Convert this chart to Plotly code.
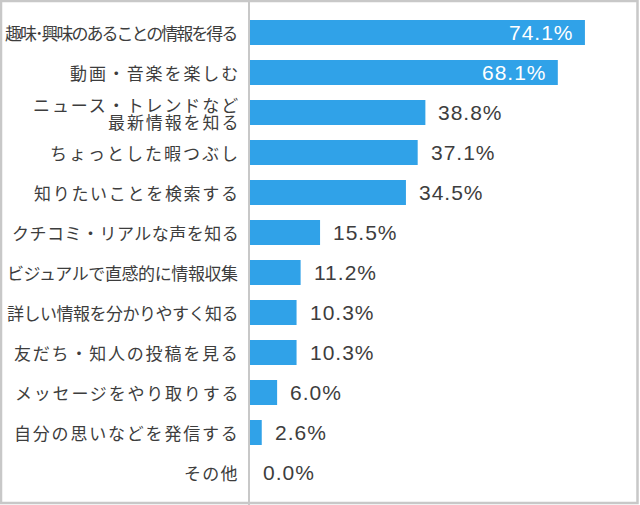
import plotly.graph_objects as go

categories = [
    "趣味･興味のあることの情報を得る",
    "動画・音楽を楽しむ",
    "ニュース・トレンドなど<br>最新情報を知る",
    "ちょっとした暇つぶし",
    "知りたいことを検索する",
    "クチコミ・リアルな声を知る",
    "ビジュアルで直感的に情報収集",
    "詳しい情報を分かりやすく知る",
    "友だち・知人の投稿を見る",
    "メッセージをやり取りする",
    "自分の思いなどを発信する",
    "その他",
]
values = [74.1, 68.1, 38.8, 37.1, 34.5, 15.5, 11.2, 10.3, 10.3, 6.0, 2.6, 0.0]
value_labels = [f"{v:.1f}%" for v in values]

# per-label letter spacing (px) to mimic the reference's condensed/expanded text
label_spacing = [-2, 1.9, 1.9, 2, 1.7, 0.5, -0.4, -0.5, 1.8, 1.8, 1.8, 1.2]

W, H = 640, 505
L = 250
plot_w = W - L
px_per_unit = 4.52
x_max = plot_w / px_per_unit

idx = list(range(len(categories)))
bar_color = "#30A2E8"
text_color = "#3d3d3d"
line_gap = 17

fig = go.Figure()
fig.add_trace(go.Bar(
    x=values, y=idx, orientation="h",
    marker=dict(color=bar_color, line=dict(width=0)),
    width=0.625, hoverinfo="skip",
))

annotations = []
# category labels
for i, (c, ls) in enumerate(zip(categories, label_spacing)):
    parts = c.split("<br>")
    k = len(parts)
    for j, p in enumerate(parts):
        shift = ((k - 1) / 2 - j) * line_gap
        annotations.append(dict(
            x=0, y=i, xref="paper", yref="y",
            text=f'<span style="letter-spacing:{ls}px">{p}</span>',
            showarrow=False, xanchor="right", yanchor="middle",
            xshift=-10 + ls, yshift=shift,
            font=dict(family="Noto Sans CJK JP", size=17, color=text_color),
        ))

# value labels
for i, (v, t) in enumerate(zip(values, value_labels)):
    inside = v > 50
    annotations.append(dict(
        x=v, y=i, xref="x", yref="y",
        text=f'<span style="letter-spacing:1px">{t}</span>',
        showarrow=False,
        xanchor="right" if inside else "left",
        yanchor="middle",
        xshift=-9 if inside else 11,
        font=dict(family="Liberation Sans, Arial, sans-serif", size=21,
                  color="#ffffff" if inside else text_color),
    ))


def px_x(p):
    return (p - L) / plot_w


def px_y(p):
    return 1 - p / H


shapes = [
    dict(type="line", xref="paper", yref="paper",
         x0=px_x(249), x1=px_x(249), y0=px_y(0), y1=px_y(H),
         line=dict(color="#c8c8c8", width=2)),
    dict(type="rect", xref="paper", yref="paper",
         x0=px_x(1), x1=px_x(637.5), y0=px_y(1), y1=px_y(503),
         line=dict(color="#c8c8c8", width=2.5), fillcolor="rgba(0,0,0,0)"),
]

n = len(categories)
pad = 12.5 / 40
fig.update_layout(
    width=W, height=H,
    margin=dict(l=L, r=0, t=0, b=0, pad=0, autoexpand=False),
    paper_bgcolor="white", plot_bgcolor="white",
    showlegend=False,
    xaxis=dict(range=[0, x_max], visible=False, fixedrange=True, automargin=False),
    yaxis=dict(
        range=[n - 0.5 + pad, -0.5 - pad],
        showticklabels=False, tickvals=idx,
        showgrid=False, zeroline=False, showline=False,
        ticks="", automargin=False, fixedrange=True,
    ),
    annotations=annotations,
    shapes=shapes,
)

fig.write_html("out.html")
